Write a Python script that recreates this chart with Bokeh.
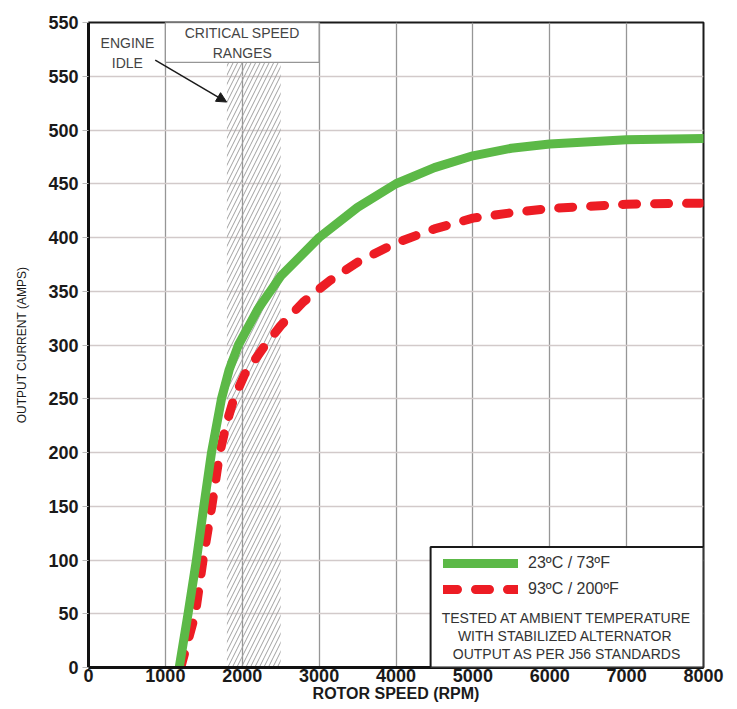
from bokeh.plotting import figure
from bokeh.models import (FixedTicker, Legend, LegendItem, BoxAnnotation, Label,
                          Arrow, NormalHead)
from bokeh.embed import file_html
from bokeh.resources import INLINE

# ---------------- data ----------------
green_rpm = [1180, 1295, 1404, 1500, 1600, 1730, 1830, 1950, 2200, 2500, 3000,
             3500, 4000, 4500, 5000, 5500, 6000, 7000, 8000]
green_amps = [0, 50, 100, 150, 200, 250, 277, 300, 333, 364, 400,
              428, 450, 465, 476, 483, 487, 491, 492]

red_rpm = [1200, 1390, 1490, 1604, 1708, 1800, 1890, 2034, 2280, 2500, 2794,
           3000, 3142, 3500, 4000, 4500, 5000, 5500, 6000, 7000, 8000]
red_amps = [0, 50, 100, 150, 200, 228, 250, 273, 298, 318, 340,
            352, 360, 377, 395, 408, 418, 423, 427, 431, 432]

x_ticks = [0, 1000, 2000, 3000, 4000, 5000, 6000, 7000, 8000]
y_ticks = [0, 50, 100, 150, 200, 250, 300, 350, 400, 450, 500, 550, 600]
y_label_overrides = {600: "550"}

series_labels = ["23ºC / 73ºF", "93ºC / 200ºF"]
note_lines = ["TESTED AT AMBIENT TEMPERATURE",
              "WITH  STABILIZED ALTERNATOR",
              "OUTPUT AS PER J56 STANDARDS"]

crit_lo, crit_hi, crit_top = 1800, 2500, 563
FONT = "Liberation Sans"
GREEN = "#5cb947"
RED = "#ed1c24"

# ---------------- figure ----------------
p = figure(width=736, height=708, x_range=(0, 8000), y_range=(0, 600),
           output_backend="svg", toolbar_location=None,
           min_border_left=88, min_border_right=33, min_border_top=22,
           min_border_bottom=41)
p.background_fill_color = "white"
p.border_fill_color = "white"
p.outline_line_color = "#1a1a1a"
p.outline_line_width = 2

# axes
p.xaxis.ticker = FixedTicker(ticks=x_ticks)
p.yaxis.ticker = FixedTicker(ticks=y_ticks)
p.yaxis.major_label_overrides = y_label_overrides
for ax in (p.xaxis[0], p.yaxis[0]):
    ax.axis_line_width = 3
    ax.axis_line_color = "#111111"
    ax.minor_tick_line_color = None
    ax.major_label_text_font = FONT
    ax.major_label_text_font_style = "bold"
    ax.major_label_text_font_size = "18px"
    ax.major_label_text_color = "#1a1a1a"
    ax.axis_label_text_font = FONT
    ax.axis_label_text_color = "#1a1a1a"
p.xaxis.major_tick_line_color = None
p.xaxis.major_tick_out = 0
p.xaxis.major_label_standoff = 1
p.xaxis.axis_label = "ROTOR SPEED (RPM)"
p.xaxis.axis_label_text_font_style = "bold"
p.xaxis.axis_label_text_font_size = "16px"
p.xaxis.axis_label_standoff = 0
p.yaxis.major_tick_in = 0
p.yaxis.major_tick_out = 6
p.yaxis.major_tick_line_color = "#bbbbbb"
p.yaxis.major_label_standoff = 4
p.yaxis.axis_label = "OUTPUT CURRENT (AMPS)"
p.yaxis.axis_label_text_font_style = "normal"
p.yaxis.axis_label_text_font_size = "12px"
p.yaxis.axis_label_standoff = 16

# grid
p.xgrid.grid_line_color = "#969696"
p.xgrid.grid_line_width = 1.3
p.ygrid.grid_line_color = "#d2caca"
p.ygrid.grid_line_width = 1.6

# critical speed band (hatched)
p.quad(left=[crit_lo], right=[crit_hi], bottom=[0], top=[crit_top],
       fill_alpha=0, line_alpha=0, hatch_pattern="/", hatch_color="#a0a0a0",
       hatch_scale=9, hatch_weight=1)
# header box above band
p.quad(left=[1000], right=[3000], bottom=[crit_top], top=[600],
       fill_color="white", line_color="#969696", line_width=1.3)

# curves
r_red = p.line(red_rpm, red_amps, line_width=9, line_color=RED,
               line_dash="14 18", line_cap="round", line_join="round")
r_green = p.line(green_rpm, green_amps, line_width=9, line_color=GREEN,
                 line_cap="round", line_join="round")

# annotations at top
for txt, yy in (("CRITICAL SPEED", 590), ("RANGES", 572)):
    p.add_layout(Label(x=2000, y=yy, text=txt, text_align="center",
                       text_baseline="middle", text_font=FONT,
                       text_font_size="14px", text_color="#444444"))
for txt, yy in (("ENGINE", 581), ("IDLE", 562)):
    p.add_layout(Label(x=506, y=yy, text=txt, text_align="center",
                       text_baseline="middle", text_font=FONT,
                       text_font_size="14px", text_color="#444444"))
p.add_layout(Arrow(end=NormalHead(size=10, fill_color="#1a1a1a",
                                  line_color="#1a1a1a"),
                   x_start=868, y_start=565, x_end=1797, y_end=526,
                   line_width=1.5, line_color="#1a1a1a"))

# legend box
p.add_layout(BoxAnnotation(left=4450, right=8000, bottom=0, top=112,
                           fill_color="white", fill_alpha=1,
                           line_color="#1a1a1a", line_width=2, line_alpha=1))
legend = Legend(items=[LegendItem(label=series_labels[0], renderers=[r_green]),
                       LegendItem(label=series_labels[1], renderers=[r_red])],
                location=(355, 68), border_line_alpha=0,
                background_fill_alpha=0, glyph_width=75, glyph_height=20,
                label_text_font=FONT, label_text_font_size="16px",
                label_text_color="#333333", label_standoff=10, spacing=6,
                padding=0, margin=0)
p.add_layout(legend)
for txt, yy in zip(note_lines, (46.5, 29, 13)):
    p.add_layout(Label(x=6225, y=yy, text=txt, text_align="center",
                       text_baseline="middle", text_font=FONT,
                       text_font_size="14px", text_color="#333333"))

open("out.html", "w").write(file_html(p, INLINE))
